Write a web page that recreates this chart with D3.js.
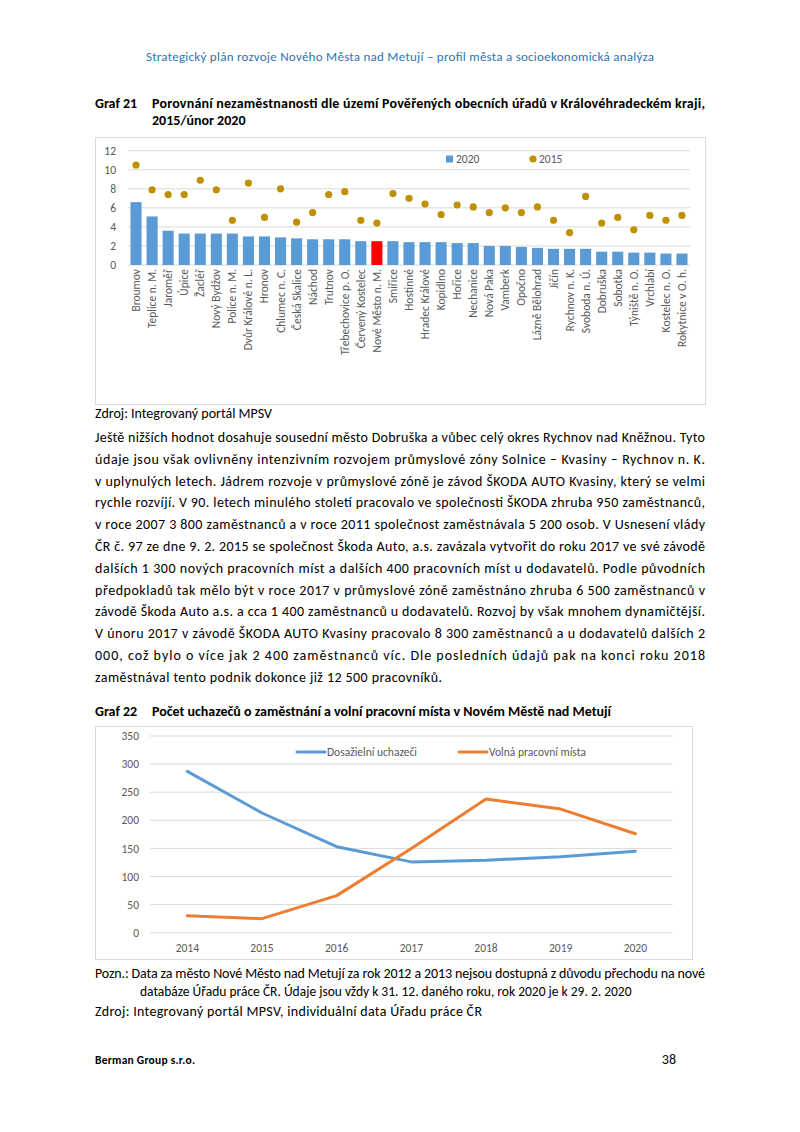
<!DOCTYPE html>
<html>
<head>
<meta charset="utf-8">
<script src="https://cdn.jsdelivr.net/npm/d3@7"></script>
<style>
  body { margin: 0; background: #fff; }
  svg { display: block; }
</style>
</head>
<body>
<svg width="800" height="1132"></svg>
<script>
var F = "Carlito, Calibri, 'Liberation Sans Narrow', 'Liberation Sans', sans-serif";

// Graf 21 data
var towns = ["Broumov", "Teplice n. M.", "Jaroměř", "Úpice", "Žacléř", "Nový Bydžov", "Police n. M.",
  "Dvůr Králové n. L.", "Hronov", "Chlumec n. C.", "Česká Skalice", "Náchod", "Trutnov", "Třebechovice p. O.",
  "Červený Kostelec", "Nové Město n. M.", "Smiřice", "Hostinné", "Hradec Králové", "Kopidlno", "Hořice",
  "Nechanice", "Nová Paka", "Vamberk", "Opočno", "Lázně Bělohrad", "Jičín", "Rychnov n. K.", "Svoboda n. Ú.",
  "Dobruška", "Sobotka", "Týniště n. O.", "Vrchlabí", "Kostelec n. O.", "Rokytnice v O. h."];
var rate2020 = [6.6, 5.1, 3.6, 3.3, 3.3, 3.3, 3.3, 3.0, 3.0, 2.9, 2.8, 2.7, 2.7, 2.7, 2.5, 2.5,
  2.5, 2.4, 2.4, 2.4, 2.3, 2.3, 2.0, 2.0, 1.9, 1.8, 1.7, 1.7, 1.7, 1.4, 1.4, 1.3, 1.3, 1.2, 1.2];
var rate2015 = [10.5, 7.9, 7.4, 7.4, 8.9, 7.9, 4.7, 8.6, 5.0, 8.0, 4.5, 5.5, 7.4, 7.7, 4.7, 4.4,
  7.5, 7.0, 6.4, 5.3, 6.3, 6.1, 5.5, 6.0, 5.5, 6.1, 4.7, 3.4, 7.2, 4.4, 5.0, 3.7, 5.2, 4.7, 5.2];
var highlight = "Nové Město n. M.";
var ticks21 = [0, 2, 4, 6, 8, 10, 12];

// Graf 22 data
var years = ["2014", "2015", "2016", "2017", "2018", "2019", "2020"];
var applicants = [287, 213, 153, 126, 129, 135, 145];
var vacancies = [30, 25, 66, 150, 238, 220, 176];
var ticks22 = [0, 50, 100, 150, 200, 250, 300, 350];

var bodyLines = [
  "Ještě nižších hodnot dosahuje sousední město Dobruška a vůbec celý okres Rychnov nad Kněžnou.  Tyto",
  "údaje jsou však ovlivněny intenzivním rozvojem průmyslové zóny Solnice – Kvasiny – Rychnov n. K.",
  "v uplynulých letech. Jádrem rozvoje v průmyslové zóně je závod ŠKODA AUTO Kvasiny, který se velmi",
  "rychle rozvíjí. V 90. letech minulého století pracovalo ve společnosti ŠKODA zhruba 950 zaměstnanců,",
  "v roce 2007 3 800 zaměstnanců a v roce 2011 společnost zaměstnávala 5 200 osob. V Usnesení vlády",
  "ČR č. 97 ze dne 9. 2. 2015 se společnost Škoda Auto, a.s. zavázala vytvořit do roku 2017 ve své závodě",
  "dalších 1 300 nových pracovních míst a dalších 400 pracovních míst u dodavatelů. Podle původních",
  "předpokladů tak mělo být v roce 2017 v průmyslové zóně zaměstnáno zhruba 6 500 zaměstnanců v",
  "závodě Škoda Auto a.s. a cca 1 400 zaměstnanců u dodavatelů. Rozvoj by však mnohem dynamičtější.",
  "V únoru 2017 v závodě ŠKODA AUTO Kvasiny pracovalo 8 300 zaměstnanců a u dodavatelů dalších 2",
  "000, což bylo o více jak 2 400 zaměstnanců víc. Dle posledních údajů pak na konci roku 2018",
  "zaměstnával tento podnik dokonce již 12 500 pracovníků."
];

var svg = d3.select("svg");

function txt(x, y, s, o) {
  o = o || {};
  var t = svg.append("text")
    .attr("x", x).attr("y", y)
    .attr("font-family", F)
    .attr("font-size", o.size || 14)
    .attr("font-weight", o.bold ? "bold" : "normal")
    .attr("fill", o.color || "#000")
    .attr("text-anchor", o.anchor || "start")
    .text(s);
  if (o.width) t.attr("textLength", o.width).attr("lengthAdjust", "spacing");
  return t;
}

// page text
txt(400, 61, "Strategický plán rozvoje Nového Města nad Metují – profil města a socioekonomická analýza",
  {anchor: "middle", size: 13, color: "#2E74B5", width: 508});
txt(95, 108, "Graf 21", {bold: true});
txt(152, 108, "Porovnání nezaměstnanosti dle území Pověřených obecních úřadů v Královéhradeckém kraji,", {bold: true, width: 553});
txt(152, 125, "2015/únor 2020", {bold: true});
txt(95, 418, "Zdroj: Integrovaný portál MPSV", {width: 177});

bodyLines.forEach(function(l, i) {
  var last = i === bodyLines.length - 1;
  txt(95, 442 + i * 21.8, l, {width: last ? 347 : 610});
});

txt(95, 716, "Graf 22", {bold: true});
txt(152, 716, "Počet uchazečů o zaměstnání a volní pracovní místa v Novém Městě nad Metují", {bold: true, width: 459});
txt(95, 978, "Pozn.: Data za město Nové Město nad Metují za rok 2012 a 2013 nejsou dostupná z důvodu přechodu na nové", {width: 610});
txt(140, 996, "databáze Úřadu práce ČR. Údaje jsou vždy k 31. 12. daného roku, rok 2020 je k 29. 2. 2020", {size: 13.5});
txt(95, 1016, "Zdroj: Integrovaný portál MPSV, individuální data Úřadu práce ČR", {width: 387});
txt(95, 1064, "Berman Group s.r.o.", {bold: true, size: 11.5, width: 100});
txt(676, 1064, "38", {size: 14, anchor: "end"});

// ---------- Graf 21 ----------
svg.append("rect").attr("x", 95.5).attr("y", 137.5).attr("width", 610).attr("height", 267)
  .attr("fill", "#fff").attr("stroke", "#D9D9D9");

var x1 = d3.scaleBand().domain(towns).range([128, 690]).paddingInner(0.31).paddingOuter(0.155);
var y1 = d3.scaleLinear().domain([0, 12]).range([265, 150.7]);

var g1 = svg.append("g");
g1.append("g").selectAll("line").data(ticks21).enter().append("line")
  .attr("x1", 128).attr("x2", 690)
  .attr("y1", function(d) { return y1(d); }).attr("y2", function(d) { return y1(d); })
  .attr("stroke", "#D9D9D9").attr("stroke-width", 1);

var yAxis1 = g1.append("g").attr("transform", "translate(128,0)")
  .call(d3.axisLeft(y1).tickValues(ticks21).tickSize(0).tickPadding(12));
yAxis1.select(".domain").remove();
yAxis1.selectAll("text").attr("font-family", F).attr("font-size", 11.5).attr("fill", "#595959");

g1.selectAll("rect.bar").data(towns).enter().append("rect")
  .attr("class", "bar")
  .attr("x", function(d) { return x1(d); })
  .attr("width", x1.bandwidth())
  .attr("y", function(d, i) { return y1(rate2020[i]); })
  .attr("height", function(d, i) { return y1(0) - y1(rate2020[i]); })
  .attr("fill", function(d) { return d === highlight ? "#FF0000" : "#5B9BD5"; });

g1.selectAll("circle").data(towns).enter().append("circle")
  .attr("cx", function(d) { return x1(d) + x1.bandwidth() / 2; })
  .attr("cy", function(d, i) { return y1(rate2015[i]); })
  .attr("r", 3.6)
  .attr("fill", "#BF9000");

var xAxis1 = g1.append("g").attr("transform", "translate(0,265)")
  .call(d3.axisBottom(x1).tickSize(0).tickPadding(0));
xAxis1.select(".domain").remove();
xAxis1.selectAll("text")
  .attr("font-family", F).attr("font-size", 11.5).attr("fill", "#595959")
  .attr("text-anchor", "end")
  .attr("dy", null)
  .attr("transform", "translate(4,4) rotate(-90)");

// legend
g1.append("rect").attr("x", 446).attr("y", 155.5).attr("width", 7).attr("height", 7).attr("fill", "#5B9BD5");
txt(456, 163, "2020", {size: 11.5, color: "#595959"});
g1.append("circle").attr("cx", 533).attr("cy", 159).attr("r", 3.6).attr("fill", "#BF9000");
txt(539, 163, "2015", {size: 11.5, color: "#595959"});

// ---------- Graf 22 ----------
svg.append("rect").attr("x", 95.5).attr("y", 726.5).attr("width", 597).attr("height", 233)
  .attr("fill", "#fff").attr("stroke", "#D9D9D9");

var x2 = d3.scaleBand().domain(years).range([150, 672.7]);
var y2 = d3.scaleLinear().domain([0, 350]).range([932.7, 736]);
var g2 = svg.append("g");

g2.append("g").selectAll("line").data(ticks22).enter().append("line")
  .attr("x1", 150).attr("x2", 672.7)
  .attr("y1", function(d) { return y2(d); }).attr("y2", function(d) { return y2(d); })
  .attr("stroke", "#D9D9D9").attr("stroke-width", 1);

var yAxis2 = g2.append("g").attr("transform", "translate(150,0)")
  .call(d3.axisLeft(y2).tickValues(ticks22).tickSize(0).tickPadding(11));
yAxis2.select(".domain").remove();
yAxis2.selectAll("text").attr("font-family", F).attr("font-size", 11.5).attr("fill", "#595959");

var xAxis2 = g2.append("g").attr("transform", "translate(0,932.7)")
  .call(d3.axisBottom(x2).tickSize(0).tickPadding(11));
xAxis2.select(".domain").remove();
xAxis2.selectAll("text").attr("font-family", F).attr("font-size", 11.5).attr("fill", "#595959");

var line2 = function(vals) {
  return d3.line()
    .x(function(d, i) { return x2(years[i]) + x2.bandwidth() / 2; })
    .y(function(d) { return y2(d); })(vals);
};
g2.append("path").attr("d", line2(applicants)).attr("fill", "none")
  .attr("stroke", "#5B9BD5").attr("stroke-width", 3).attr("stroke-linejoin", "round").attr("stroke-linecap", "round");
g2.append("path").attr("d", line2(vacancies)).attr("fill", "none")
  .attr("stroke", "#ED7D31").attr("stroke-width", 3).attr("stroke-linejoin", "round").attr("stroke-linecap", "round");

// legend
g2.append("line").attr("x1", 297).attr("x2", 325).attr("y1", 752).attr("y2", 752)
  .attr("stroke", "#5B9BD5").attr("stroke-width", 3).attr("stroke-linecap", "round");
txt(327, 756, "Dosažielní uchazeči", {size: 11.5, color: "#595959"});
g2.append("line").attr("x1", 459).attr("x2", 487).attr("y1", 752).attr("y2", 752)
  .attr("stroke", "#ED7D31").attr("stroke-width", 3).attr("stroke-linecap", "round");
txt(489, 756, "Volná pracovní místa", {size: 11.5, color: "#595959"});
</script>
</body>
</html>
